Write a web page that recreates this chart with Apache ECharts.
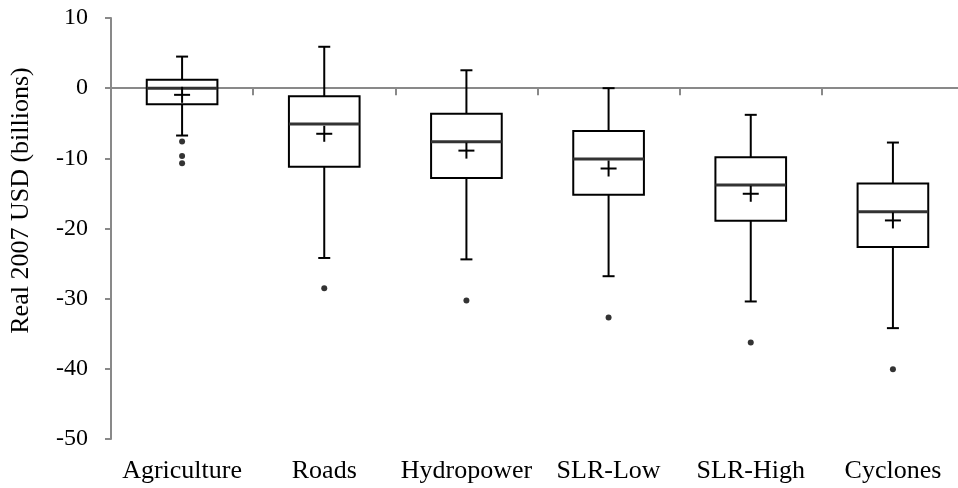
<!DOCTYPE html>
<html>
<head>
<meta charset="utf-8">
<script src="https://cdn.jsdelivr.net/npm/echarts@6/dist/echarts.min.js"></script>
<style>html,body{margin:0;padding:0;background:#fff}#c{width:958px;height:488px}</style>
</head>
<body>
<div id="c"></div>
<script>
const categories = ['Agriculture', 'Roads', 'Hydropower', 'SLR-Low', 'SLR-High', 'Cyclones'];
const whiskerLow = [-6.75, -24.2, -24.4, -26.8, -30.4, -34.2];
const q1 = [-2.3, -11.2, -12.8, -15.2, -18.9, -22.65];
const median = [0, -5.1, -7.65, -10.1, -13.8, -17.6];
const q3 = [1.2, -1.15, -3.65, -6.1, -9.85, -13.6];
const whiskerHigh = [4.5, 5.9, 2.55, 0, -3.8, -7.75];
const means = [-0.95, -6.5, -8.9, -11.45, -15.05, -18.85];
const outliers = [[0, -7.6], [0, -9.65], [0, -10.7], [1, -28.5], [2, -30.25], [3, -32.7], [4, -36.25], [5, -40.05]];
const yTicks = { min: -50, max: 10, interval: 10 };

const FONT = 'Liberation Serif';
const AXIS_GRAY = '#898989';

const boxData = categories.map((c, i) => [i, whiskerLow[i], q1[i], median[i], q3[i], whiskerHigh[i], means[i]]);

function renderBox(params, api) {
  const x = api.value(0);
  const lo = api.coord([x, api.value(1)]);
  const pq1 = api.coord([x, api.value(2)]);
  const pmed = api.coord([x, api.value(3)]);
  const pq3 = api.coord([x, api.value(4)]);
  const hi = api.coord([x, api.value(5)]);
  const pm = api.coord([x, api.value(6)]);
  const bw = api.size([1, 0])[0] * 0.497;
  const cx = lo[0];
  const cap = 6, ms = 8;
  const st = { stroke: '#000', lineWidth: 2, fill: null };
  const L = (x1, y1, x2, y2, s) => ({ type: 'line', shape: { x1, y1, x2, y2 }, style: s || st });
  return {
    type: 'group',
    children: [
      L(cx, hi[1], cx, pq3[1]),
      L(cx - cap, hi[1], cx + cap, hi[1]),
      L(cx, pq1[1], cx, lo[1]),
      L(cx - cap, lo[1], cx + cap, lo[1]),
      { type: 'rect', shape: { x: cx - bw / 2, y: pq3[1], width: bw, height: pq1[1] - pq3[1] }, style: { stroke: '#000', lineWidth: 2, fill: '#fff' } },
      L(cx - bw / 2, pmed[1], cx + bw / 2, pmed[1], { stroke: '#333', lineWidth: 3 }),
      L(cx - ms, pm[1], cx + ms, pm[1]),
      L(cx, pm[1] - ms, cx, pm[1] + ms)
    ]
  };
}

const chart = echarts.init(document.getElementById('c'), null, { renderer: 'canvas' });
chart.setOption({
  animation: false,
  backgroundColor: '#fff',
  grid: { left: 111, width: 853, top: 18, bottom: 49, containLabel: false, outerBoundsMode: 'none' },
  xAxis: [
    {
      type: 'category', data: categories, position: 'bottom',
      axisLine: { show: false, onZero: false }, axisTick: { show: false },
      axisLabel: { color: '#000', fontFamily: FONT, fontSize: 26, margin: 19, interval: 0 },
      splitLine: { show: false }
    },
    {
      type: 'category', data: categories, position: 'bottom',
      axisLine: { show: true, onZero: true, lineStyle: { color: AXIS_GRAY, width: 2 } },
      axisTick: { show: true, length: 7, interval: 0, lineStyle: { color: AXIS_GRAY, width: 2 } },
      axisLabel: { show: false }, splitLine: { show: false }
    }
  ],
  yAxis: {
    type: 'value', min: yTicks.min, max: yTicks.max, interval: yTicks.interval,
    axisLine: { show: true, lineStyle: { color: AXIS_GRAY, width: 2 } },
    axisTick: { show: true, length: 6, lineStyle: { color: AXIS_GRAY, width: 2 } },
    splitLine: { show: false },
    axisLabel: { color: '#000', fontFamily: FONT, fontSize: 24, margin: 23 },
    name: 'Real 2007 USD (billions)', nameLocation: 'middle', nameRotate: 90, nameGap: 77,
    nameTextStyle: { color: '#000', fontFamily: FONT, fontSize: 26, padding: [0, 0, 0, 56] }
  },
  series: [
    {
      type: 'custom', renderItem: renderBox, data: boxData,
      encode: { x: 0, y: [1, 2, 3, 4, 5, 6] }, z: 3
    },
    {
      type: 'scatter', data: outliers, symbol: 'circle', symbolSize: 6,
      itemStyle: { color: '#000' }, z: 4
    }
  ]
});
</script>
</body>
</html>
